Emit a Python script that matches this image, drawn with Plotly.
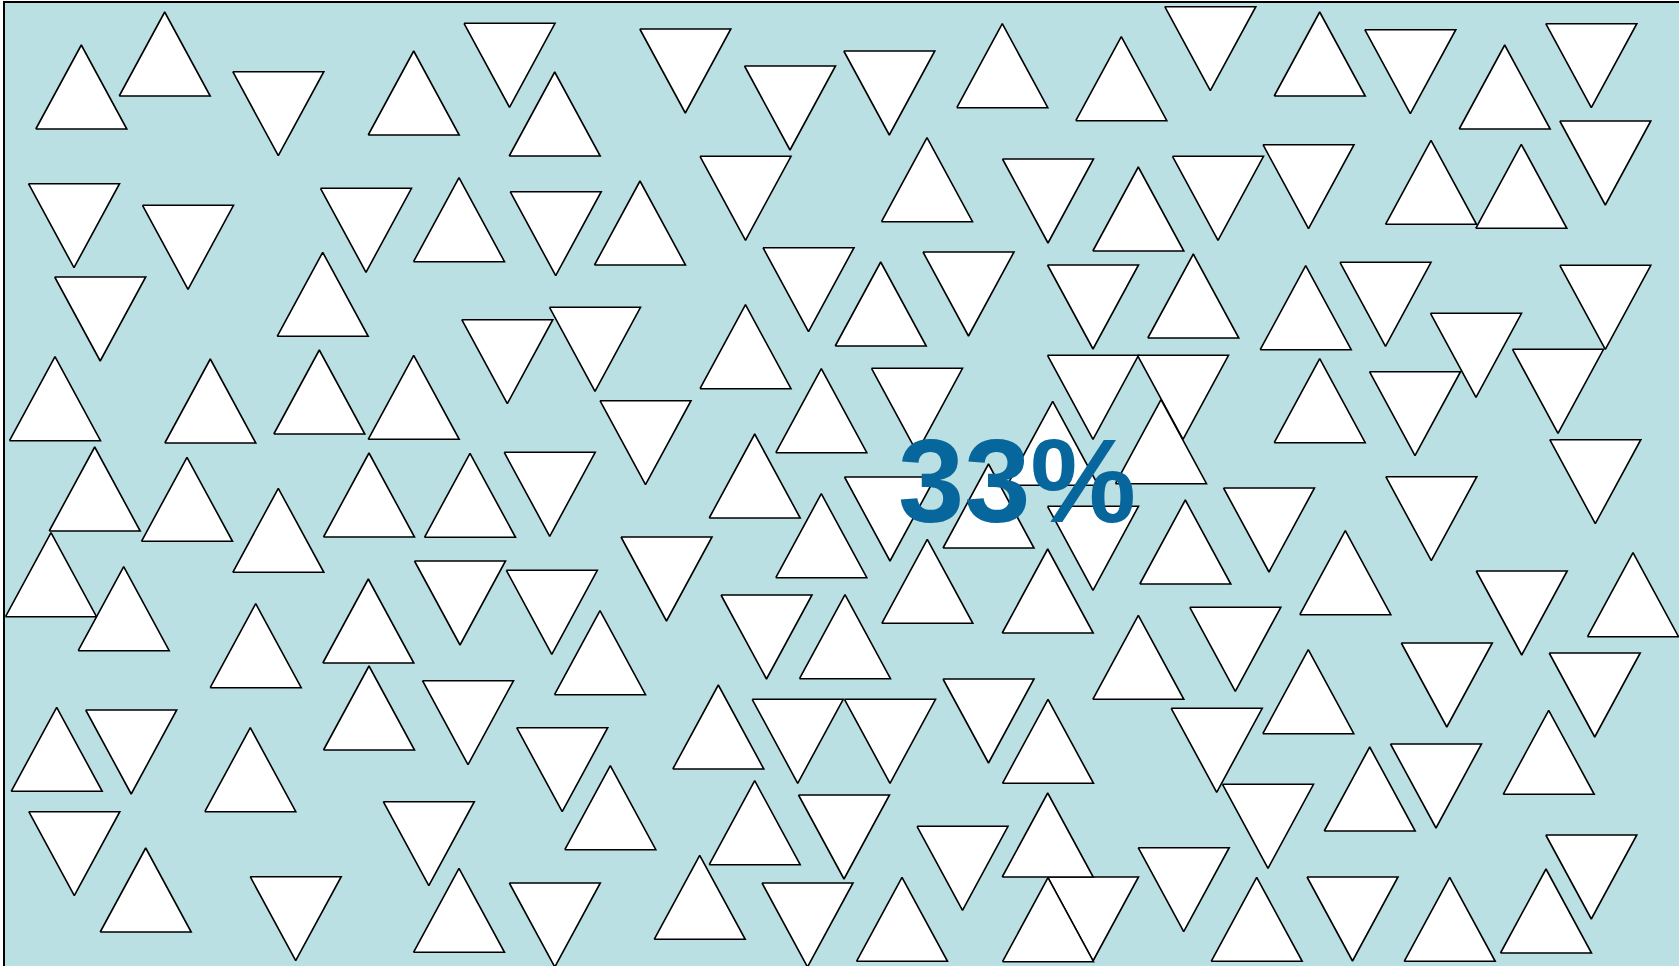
import plotly.graph_objects as go

# Triangle data: orientation (U = pointing up, D = pointing down), centre x, centre y (pixel-like units, y downward)
tri_dir = [
    "U","U","D","U","D","U","D","D","D","U","U","D","U","D","U","D","D",
    "D","D","D","U","D","U","D","U","D","U","D","D","U","U",
    "D","U","D","D","U","D","U","D","D","U","U","D","D","D",
    "U","U","U","U","D","U","U","D","U","D","D","U","U","D","D","D",
    "U","U","U","U","D","U","U","U","U","D","U","D","U","D","D","U","D","U",
    "D","D","D","U","D","U","U","U","D","U","U","D","D",
    "U","D","U","U","U","D","D","U","U","D","D","U","D","U","D",
    "U","D","D","D","U","D","D","U","D","U","D","U","U","D","U","D","D","U","U","D","U","D","D","U","U",
]
tri_x = [
    81.3,164.7,278.3,413.7,509.5,554.7,685.3,790,889.3,1002.3,1121.3,1210.3,1319.7,1410.3,1504.7,1591.3,1605.3,
    74,188,366,459,555.7,640,745.5,927,1048,1138.3,1218,1308.5,1431,1521.3,
    100.2,322.7,507.3,595,745.5,808.5,880.7,968.5,1093,1193.3,1305.7,1385.5,1476,1605.3,
    55,210.3,319.3,413.7,645.5,821.3,754.7,917,1052.7,1093,1183,1161,1319.7,1415,1558,1595.3,
    94.7,187,369,470,549.7,278.3,51,123.7,821.3,890,988.5,1093,1185.3,1269,1431.3,1345.3,1521.7,1633,
    666.5,460,551.8,600,766.5,845,927.3,1047.7,1235.3,1138.3,1308.3,1446.8,1594.7,
    56.7,131.2,255.7,368.3,369,468,562.2,250.3,610.3,428.8,74.3,145.7,295.7,459,554.8,
    718.3,797.7,890,988.5,1048,1216.7,1268,1369.7,1436,1548.7,1591.3,1546,1449.7,1352.5,1256.7,1183.7,1093,1048,1047.7,962.5,902,807.5,844,754.7,699.7,
]
tri_y = [
    87,54,113.7,93,65.3,114,71,108,93,65.7,78.7,48.7,54,71.7,87,65.7,163,
    225.7,247.3,230.3,219.7,233.7,223,198.3,179.7,201,209,198.3,186.7,182.3,186.3,
    319,294.3,361.7,349.3,346.7,289.7,304,294,307,296,307.7,304.3,355.3,307.3,
    398.7,401,392,397.3,442.7,410.7,476,410.3,443.3,397.3,397.3,441.7,400.7,413.7,391.3,481.7,
    489,499.3,495,495.3,494.3,530.3,574.7,608.7,535.7,519,506,548.3,542,530,518.7,572.7,613,594.7,
    579,603,612.3,652.7,637,636.7,581.3,591,649.3,657.3,691.7,685,695,
    749.3,752,645.7,621,708,722.7,769.7,769.7,807.7,843.7,853.7,890,918.7,910.3,925,
    727,741.3,741.3,721,741.3,750.3,826.3,789,786,752.3,877,911,919.3,919,919.3,889.7,919,919.7,835,868.3,919.3,925,837,822.7,897.3,
]

label_text = "33%"
label_x = 1017
label_y = 480

TRI_W = 91
TRI_H = 84

fig = go.Figure()
for d, cx, cy in zip(tri_dir, tri_x, tri_y):
    if d == "U":
        xs = [cx - TRI_W / 2, cx + TRI_W / 2, cx, cx - TRI_W / 2]
        ys = [cy + TRI_H / 2, cy + TRI_H / 2, cy - TRI_H / 2, cy + TRI_H / 2]
    else:
        xs = [cx - TRI_W / 2, cx + TRI_W / 2, cx, cx - TRI_W / 2]
        ys = [cy - TRI_H / 2, cy - TRI_H / 2, cy + TRI_H / 2, cy - TRI_H / 2]
    fig.add_trace(go.Scatter(
        x=xs, y=ys, mode="lines", fill="toself", fillcolor="white",
        line=dict(color="black", width=1.6), hoverinfo="skip", showlegend=False,
    ))

fig.add_annotation(
    x=label_x, y=label_y, xref="x", yref="y", text="<b>" + label_text + "</b>",
    showarrow=False, xanchor="center", yanchor="middle",
    font=dict(family="Liberation Sans, Arial, sans-serif", size=119, color="#07679c"),
)

fig.update_layout(
    width=1679, height=966,
    margin=dict(l=5, r=0, t=3, b=0, pad=0),
    paper_bgcolor="white", plot_bgcolor="#bae0e3",
    xaxis=dict(range=[5, 1679], showgrid=False, zeroline=False, showticklabels=False, ticks="",
               showline=True, linecolor="black", linewidth=2, side="top", mirror=False, fixedrange=True),
    yaxis=dict(range=[966, 3], showgrid=False, zeroline=False, showticklabels=False, ticks="",
               showline=True, linecolor="black", linewidth=2, side="left", mirror=False, fixedrange=True),
)

fig.write_html("out.html", config={"displayModeBar": False})
